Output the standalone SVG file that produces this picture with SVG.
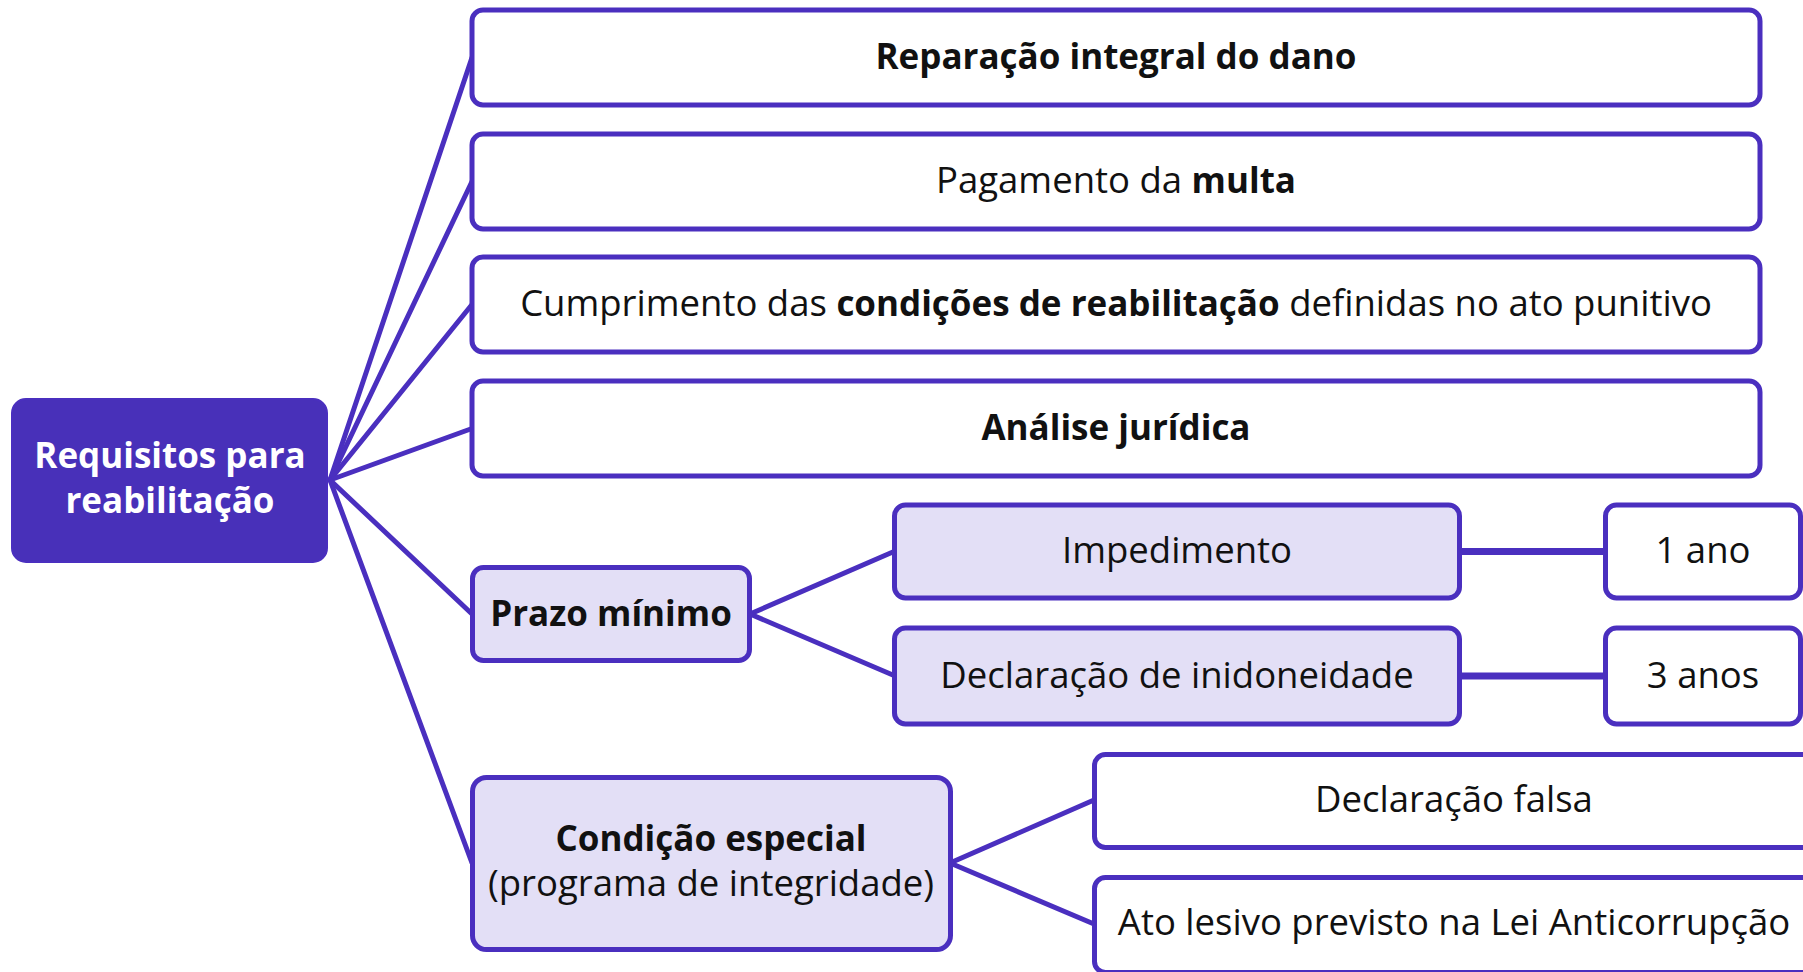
<svg xmlns="http://www.w3.org/2000/svg" width="1803" height="972" viewBox="0 0 1803 972">
<style>
.box{fill:#ffffff;stroke:#4A2FBF;stroke-width:5}
.lt{fill:#E3DFF6;stroke:#4A2FBF;stroke-width:5}
.root{fill:#4830B9;stroke:#4A2FBF;stroke-width:2}
.c{stroke:#4A2FBF;stroke-width:5;fill:none;stroke-linecap:round}
.ch{stroke:#4A2FBF;stroke-width:7;fill:none}
text{font-family:"Open Sans","Noto Sans","DejaVu Sans",sans-serif;font-size:36.5px;fill:#111111;text-anchor:middle}
.b{font-weight:bold;font-size:35px}
.w{fill:#ffffff;font-weight:bold;font-size:35px}
</style>
<rect width="1803" height="972" fill="#ffffff"/>
<g id="connectors">
<line class="c" x1="330" y1="480" x2="472" y2="57.5"/>
<line class="c" x1="330" y1="480" x2="472" y2="181.5"/>
<line class="c" x1="330" y1="480" x2="472" y2="304.5"/>
<line class="c" x1="330" y1="480" x2="472" y2="428.5"/>
<line class="c" x1="330" y1="480" x2="472" y2="614"/>
<line class="c" x1="330" y1="480" x2="472" y2="863"/>
<line class="c" x1="750" y1="614" x2="894" y2="551.5"/>
<line class="c" x1="750" y1="614" x2="894" y2="675.5"/>
<line class="ch" x1="1460" y1="551.5" x2="1605" y2="551.5"/>
<line class="ch" x1="1460" y1="676" x2="1605" y2="676"/>
<line class="c" x1="950" y1="863" x2="1094" y2="800"/>
<line class="c" x1="950" y1="863" x2="1094" y2="924"/>
</g>
<g id="root">
<rect class="root" x="12" y="399" width="315" height="163" rx="14"/>
<text class="w" x="170" y="468">Requisitos para</text>
<text class="w" x="170" y="513">reabilitação</text>
</g>
<g id="reparacao">
<rect class="box" x="472" y="10" width="1288" height="95" rx="11"/>
<text class="b" x="1116" y="69">Reparação integral do dano</text>
</g>
<g id="pagamento">
<rect class="box" x="472" y="134" width="1288" height="95" rx="11"/>
<text x="1116" y="193">Pagamento da <tspan class="b">multa</tspan></text>
</g>
<g id="cumprimento">
<rect class="box" x="472" y="257" width="1288" height="95" rx="11"/>
<text x="1116" y="316">Cumprimento das <tspan class="b">condições de reabilitação</tspan> definidas no ato punitivo</text>
</g>
<g id="analise">
<rect class="box" x="472" y="381" width="1288" height="95" rx="11"/>
<text class="b" x="1116" y="440">Análise jurídica</text>
</g>
<g id="prazo">
<rect class="lt" x="472.5" y="567.5" width="277" height="93" rx="11"/>
<text class="b" x="611" y="626">Prazo mínimo</text>
</g>
<g id="impedimento">
<rect class="lt" x="894.5" y="505" width="565" height="93" rx="11"/>
<text x="1177" y="563">Impedimento</text>
</g>
<g id="inidoneidade">
<rect class="lt" x="894.5" y="628" width="565" height="96" rx="11"/>
<text x="1177" y="688">Declaração de inidoneidade</text>
</g>
<g id="um-ano">
<rect class="box" x="1605.5" y="505" width="195" height="93" rx="11"/>
<text x="1703" y="563">1 ano</text>
</g>
<g id="tres-anos">
<rect class="box" x="1605.5" y="628" width="195" height="96" rx="11"/>
<text x="1703" y="688">3 anos</text>
</g>
<g id="condicao">
<rect class="lt" x="472.5" y="777.5" width="478" height="172" rx="14"/>
<text class="b" x="711" y="851">Condição especial</text>
<text x="711" y="896">(programa de integridade)</text>
</g>
<g id="declaracao-falsa">
<rect class="box" x="1094.5" y="754.5" width="730" height="93" rx="11"/>
<text x="1454" y="812">Declaração falsa</text>
</g>
<g id="ato-lesivo">
<rect class="box" x="1094.5" y="877.5" width="730" height="95" rx="11"/>
<text x="1454" y="935">Ato lesivo previsto na Lei Anticorrupção</text>
</g>
</svg>
